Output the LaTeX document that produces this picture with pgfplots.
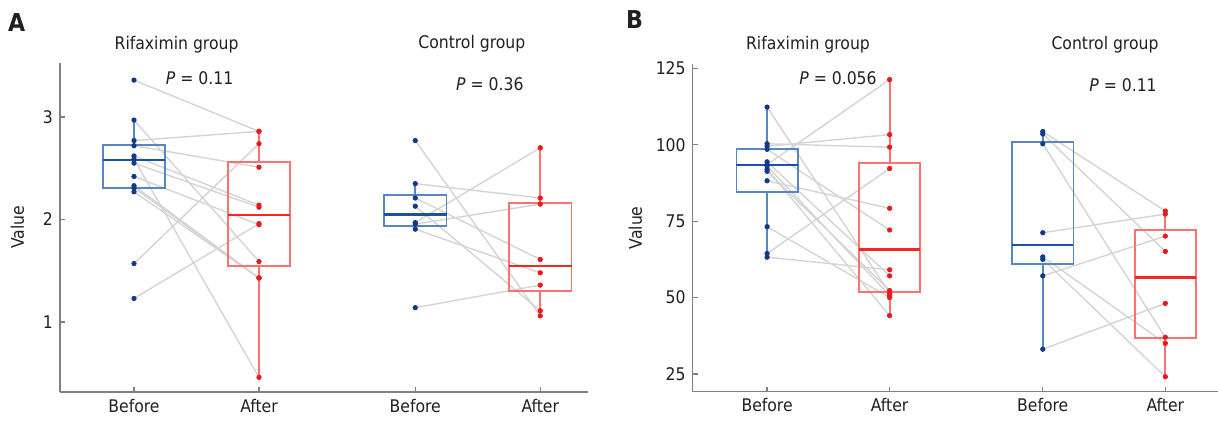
\documentclass[border=0pt]{standalone}
\usepackage{pgfplots}
\pgfplotsset{compat=1.18}
\usepackage{pgfplotstable}
\usepgfplotslibrary{statistics}
\usepackage{fontspec}
\setmainfont{DejaVu Sans Condensed}

\definecolor{axgray}{RGB}{128,128,128}
\definecolor{txt}{RGB}{35,31,32}
\definecolor{pairgray}{RGB}{212,212,212}
\definecolor{boxblue}{RGB}{88,134,192}
\definecolor{medblue}{RGB}{30,82,155}
\definecolor{ptblue}{RGB}{18,58,135}
\definecolor{boxred}{RGB}{255,112,112}
\definecolor{medred}{RGB}{240,40,40}
\definecolor{ptred}{RGB}{235,25,25}

\newcommand{\fsz}{\fontsize{8.7}{10}\selectfont}

% Panel A, rifaximin group: before / after
\pgfplotstableread{
b a
3.36 2.86
2.97 1.59
2.77 2.86
2.72 2.51
2.62 2.14
2.59 0.46
2.55 2.12
2.42 1.95
2.33 1.43
2.31 1.43
2.27 1.43
1.57 2.74
1.23 1.96
}\Arif
% Panel A, control group
\pgfplotstableread{
b a
2.77 1.06
2.35 2.21
2.21 1.61
2.13 1.11
1.97 2.70
1.955 2.15
1.906 1.48
1.14 1.36
}\Actl
% Panel B, rifaximin group
\pgfplotstableread{
b a
112.3 51.4
100.3 99.2
99.5 103.3
98.5 72.1
94.4 57.1
93.5 121.3
93.0 50.7
92.0 44.1
91.3 52.3
88.2 79.2
73.2 50.0
64.4 92.2
63.2 59.1
}\Brif
% Panel B, control group
\pgfplotstableread{
b a
104.3 78.3
103.5 65.1
100.3 37.0
71.2 77.3
63.3 35.0
62.5 24.1
57.1 70.1
33.1 48.1
}\Bctl

\pgfplotsset{
  pairaxis/.style={
    scale only axis,
    axis lines=left,
    axis line style={draw=axgray, line width=0.7pt, -},
    tick align=inside,
    major tick length=2.5pt,
    tick style={draw=axgray, line width=0.6pt},
    xtick={1,2,3.25,4.25},
    xticklabels={Before,After,Before,After},
    tick label style={font=\fsz, text=txt},
    label style={font=\fsz, text=txt},
    /pgf/number format/assume math mode=true,
    clip=false,
    ylabel={Value},
    boxplot/draw direction=y,
  },
  pairline/.style={draw=pairgray, line width=0.7pt, quiver={u=1, v=\thisrow{a}-\thisrow{b}}},
  bbox/.style={draw=boxblue, line width=0.9pt, boxplot/box extend=0.5, boxplot/whisker extend=0,
     boxplot/every median/.style={draw=medblue, line width=1.2pt}},
  rbox/.style={draw=boxred, line width=0.9pt, boxplot/box extend=0.5, boxplot/whisker extend=0,
     boxplot/every median/.style={draw=medred, line width=1.2pt}},
  bpt/.style={only marks, mark=*, mark size=1.1pt, mark options={draw=ptblue, fill=ptblue}},
  rpt/.style={only marks, mark=*, mark size=1.1pt, mark options={draw=ptred, fill=ptred}},
}

\begin{document}
\begin{tikzpicture}
\useasboundingbox (0,0) rectangle (609pt,212.5pt);

% ---------------- Panel A ----------------
\begin{axis}[pairaxis,
  at={(30pt,16.5pt)}, anchor=south west,
  width=264pt, height=164.5pt,
  xmin=0.408, xmax=4.632, ymin=0.317, ymax=3.527,
  ytick={1,2,3},
  ylabel style={at={(axis description cs:-0.0805,0.5)}, anchor=center},
]
\addplot[pairline] table[x expr=1, y=b] {\Arif};
\addplot[pairline] table[x expr=3.25, y=b] {\Actl};
\addplot[bbox, boxplot prepared={draw position=1, lower whisker=2.275, lower quartile=2.31, median=2.58, upper quartile=2.724, upper whisker=2.975}] coordinates {};
\addplot[rbox, boxplot prepared={draw position=2, lower whisker=0.456, lower quartile=1.547, median=2.043, upper quartile=2.565, upper whisker=2.857}] coordinates {};
\addplot[bbox, boxplot prepared={draw position=3.25, lower whisker=1.906, lower quartile=1.936, median=2.05, upper quartile=2.242, upper whisker=2.349}] coordinates {};
\addplot[rbox, boxplot prepared={draw position=4.25, lower whisker=1.056, lower quartile=1.30, median=1.544, upper quartile=2.16, upper whisker=2.705}] coordinates {};
\addplot[bpt] table[x expr=1, y=b] {\Arif};
\addplot[rpt] table[x expr=2, y=a] {\Arif};
\addplot[bpt] table[x expr=3.25, y=b] {\Actl};
\addplot[rpt] table[x expr=4.25, y=a] {\Actl};
\end{axis}

% ---------------- Panel B ----------------
\begin{axis}[pairaxis,
  at={(346.35pt,16.65pt)}, anchor=south west,
  width=262.65pt, height=163.85pt,
  xmin=0.393, xmax=4.68, ymin=19.2, ymax=126.4,
  ytick={25,50,75,100,125},
  ylabel style={at={(axis description cs:-0.109,0.5)}, anchor=center},
]
\addplot[pairline] table[x expr=1, y=b] {\Brif};
\addplot[pairline] table[x expr=3.25, y=b] {\Bctl};
\addplot[bbox, boxplot prepared={draw position=1, lower whisker=63.2, lower quartile=84.4, median=93.3, upper quartile=98.7, upper whisker=112.3}] coordinates {};
\addplot[rbox, boxplot prepared={draw position=2, lower whisker=44.1, lower quartile=51.8, median=65.7, upper quartile=93.9, upper whisker=121.3}] coordinates {};
\addplot[bbox, boxplot prepared={draw position=3.25, lower whisker=33.1, lower quartile=61.0, median=67.2, upper quartile=101.0, upper whisker=104.3}] coordinates {};
\addplot[rbox, boxplot prepared={draw position=4.25, lower whisker=24.1, lower quartile=36.7, median=56.6, upper quartile=72.0, upper whisker=78.3}] coordinates {};
\addplot[bpt] table[x expr=1, y=b] {\Brif};
\addplot[rpt] table[x expr=2, y=a] {\Brif};
\addplot[bpt] table[x expr=3.25, y=b] {\Bctl};
\addplot[rpt] table[x expr=4.25, y=a] {\Bctl};
\end{axis}

% ---------------- Texts ----------------
\node[font=\fontsize{12.3}{14}\selectfont\bfseries, text=txt] at (8.3pt,201.3pt) {A};
\node[font=\fontsize{12.3}{14}\selectfont\bfseries, text=txt] at (317.25pt,202.75pt) {B};
\node[font=\fsz, text=txt, anchor=base] at (88.3pt,187.8pt) {Rifaximin group};
\node[font=\fsz, text=txt, anchor=base] at (235.9pt,188.3pt) {Control group};
\node[font=\fsz, text=txt, anchor=base] at (99.8pt,170.5pt) {\textit{P} = 0.11};
\node[font=\fsz, text=txt, anchor=base] at (244.9pt,167.5pt) {\textit{P} = 0.36};
\node[font=\fsz, text=txt, anchor=base] at (404pt,188pt) {Rifaximin group};
\node[font=\fsz, text=txt, anchor=base] at (552.5pt,188pt) {Control group};
\node[font=\fsz, text=txt, anchor=base] at (419pt,170.3pt) {\textit{P} = 0.056};
\node[font=\fsz, text=txt, anchor=base] at (561.5pt,166.7pt) {\textit{P} = 0.11};
\end{tikzpicture}
\end{document}
